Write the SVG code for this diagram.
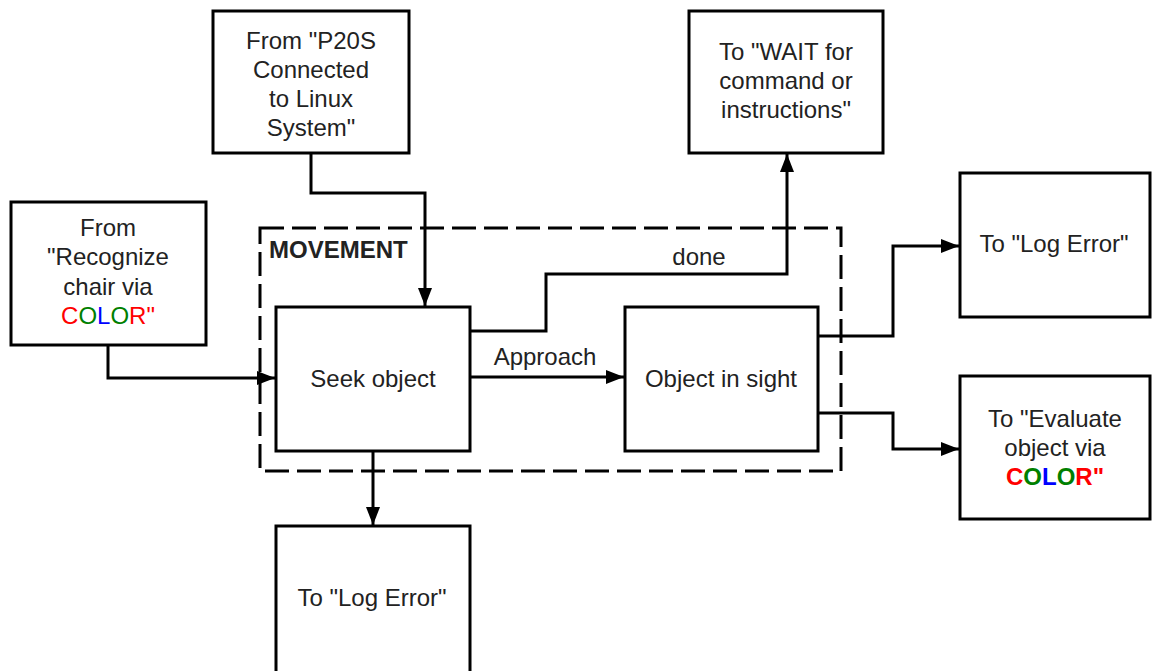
<svg xmlns="http://www.w3.org/2000/svg" width="1152" height="671" viewBox="0 0 1152 671">
<style>
.box{fill:#fff;stroke:#000;stroke-width:3}
.t{font-family:"Liberation Sans",Arial,sans-serif;font-size:24px;fill:#222;text-anchor:middle}
.b{font-weight:bold}
.c{fill:none;stroke:#000;stroke-width:3}
.r{fill:#ff0000}.g{fill:#008000}.bl{fill:#0000ff}
</style>
<defs>
<marker id="ah" markerUnits="userSpaceOnUse" viewBox="0 0 18 14" markerWidth="18" markerHeight="14" refX="18" refY="7" orient="auto">
<path d="M0,0 L18,7 L0,14 Z" fill="#000"/>
</marker>
</defs>
<rect width="1152" height="671" fill="#fff"/>
<g id="movement-group">
<rect x="260" y="228" width="581" height="243" fill="none" stroke="#000" stroke-width="3" stroke-dasharray="24 8"/>
<text x="269" y="258" class="t b" style="text-anchor:start">MOVEMENT</text>
</g>
<g id="connectors">
<path class="c" d="M108,346 V378 H275" marker-end="url(#ah)"/>
<path class="c" d="M311,153 V193 H425 V306" marker-end="url(#ah)"/>
<path class="c" d="M470,377 H624" marker-end="url(#ah)"/>
<path class="c" d="M470,331 H546 V274 H787 V154" marker-end="url(#ah)"/>
<path class="c" d="M818,336 H893 V246 H959" marker-end="url(#ah)"/>
<path class="c" d="M818,413 H893 V449 H959" marker-end="url(#ah)"/>
<path class="c" d="M373,451 V525" marker-end="url(#ah)"/>
<text x="545" y="365" class="t">Approach</text>
<text x="699" y="265" class="t">done</text>
</g>
<g id="from-p20s">
<rect class="box" x="213" y="11" width="196" height="142"/>
<text class="t" x="311" y="49">From "P20S</text>
<text class="t" x="311" y="78">Connected</text>
<text class="t" x="311" y="107">to Linux</text>
<text class="t" x="311" y="136">System"</text>
</g>
<g id="to-wait">
<rect class="box" x="689" y="11" width="194" height="142"/>
<text class="t" x="786" y="60">To "WAIT for</text>
<text class="t" x="786" y="89">command or</text>
<text class="t" x="786" y="118">instructions"</text>
</g>
<g id="from-recognize">
<rect class="box" x="11" y="202" width="195" height="143"/>
<text class="t" x="108" y="236">From</text>
<text class="t" x="108" y="265">"Recognize</text>
<text class="t" x="108" y="295">chair via</text>
<text class="t" x="108" y="324"><tspan class="r">C</tspan><tspan class="g">O</tspan><tspan class="bl">L</tspan><tspan class="g">O</tspan><tspan class="r">R"</tspan></text>
</g>
<g id="seek-object">
<rect class="box" x="276" y="307" width="194" height="144"/>
<text class="t" x="373" y="387">Seek object</text>
</g>
<g id="object-in-sight">
<rect class="box" x="625" y="307" width="193" height="144"/>
<text class="t" x="721" y="387">Object in sight</text>
</g>
<g id="log-error-right">
<rect class="box" x="960" y="173" width="190" height="144"/>
<text class="t" x="1054" y="252">To "Log Error"</text>
</g>
<g id="evaluate-object">
<rect class="box" x="960" y="376" width="190" height="143"/>
<text class="t" x="1055" y="427">To "Evaluate</text>
<text class="t" x="1055" y="456">object via</text>
<text class="t b" x="1055" y="485"><tspan class="r">C</tspan><tspan class="g">O</tspan><tspan class="bl">L</tspan><tspan class="g">O</tspan><tspan class="r">R"</tspan></text>
</g>
<g id="log-error-bottom">
<rect class="box" x="276" y="526" width="194" height="160"/>
<text class="t" x="372" y="606">To "Log Error"</text>
</g>
</svg>
